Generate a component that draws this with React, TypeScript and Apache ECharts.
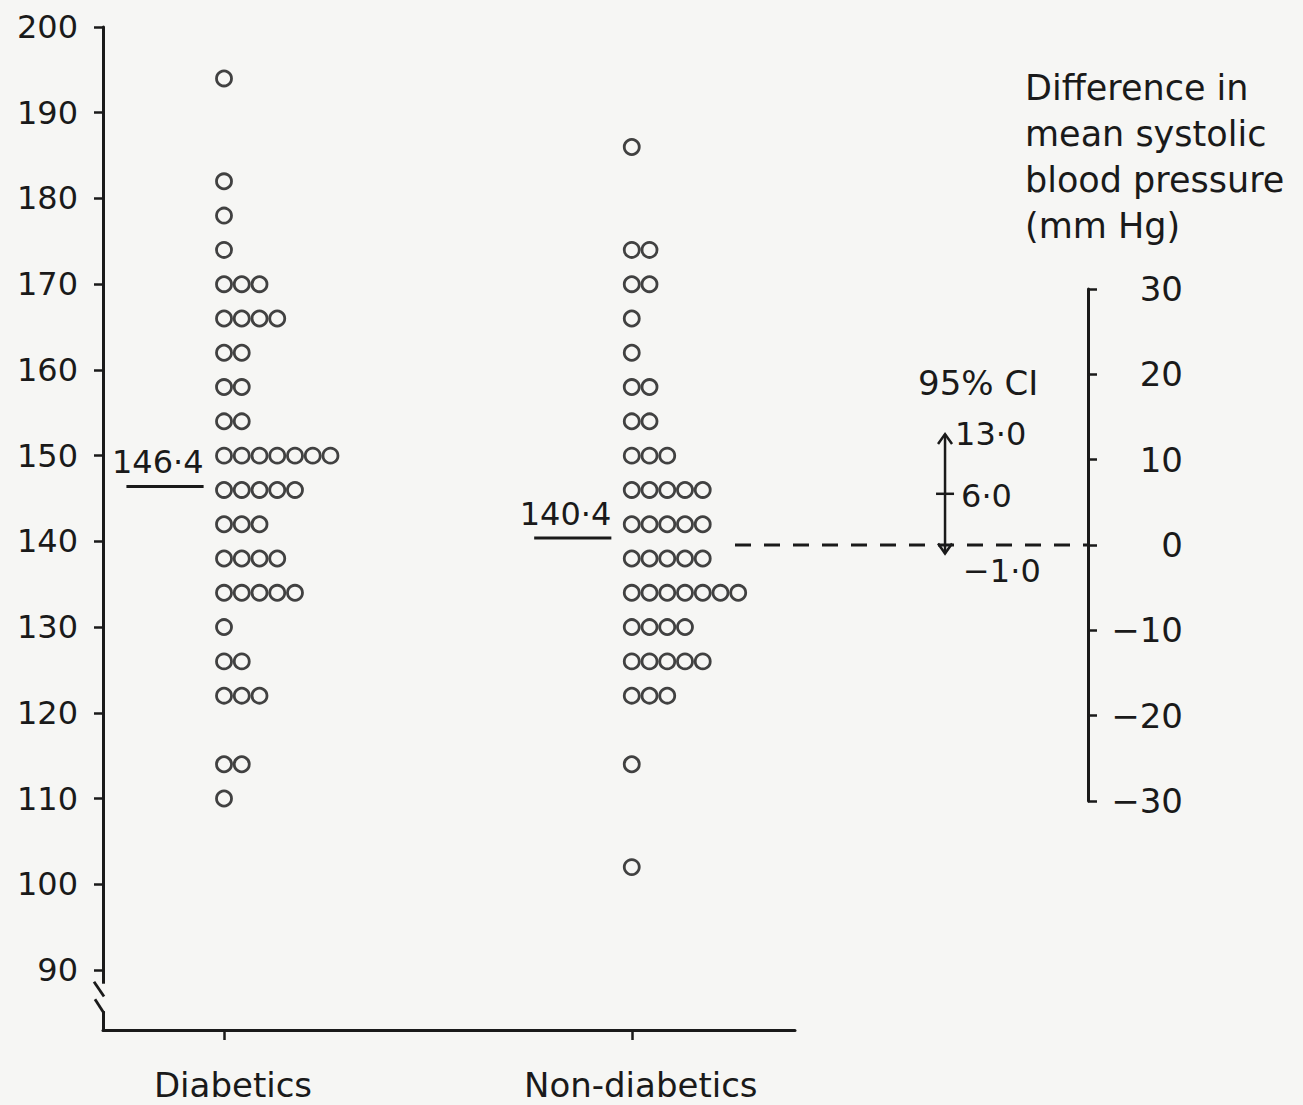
import React, { useEffect, useRef } from "react";
import * as echarts from "echarts";

// ---- data ----
const categories = ["Diabetics", "Non-diabetics"];
const diabeticBins = [194, 182, 178, 174, 170, 166, 162, 158, 154, 150, 146, 142, 138, 134, 130, 126, 122, 114, 110];
const diabeticCounts = [1, 1, 1, 1, 3, 4, 2, 2, 2, 7, 5, 3, 4, 5, 1, 2, 3, 2, 1];
const nonDiabeticBins = [186, 174, 170, 166, 162, 158, 154, 150, 146, 142, 138, 134, 130, 126, 122, 114, 102];
const nonDiabeticCounts = [1, 2, 2, 1, 1, 2, 2, 3, 5, 5, 5, 7, 4, 5, 3, 1, 1];
const groupMeans = [146.4, 140.4];
const bpTicks = [90, 100, 110, 120, 130, 140, 150, 160, 170, 180, 190, 200];
const diffTicks = [-30, -20, -10, 0, 10, 20, 30];
const ciValues = [-1.0, 6.0, 13.0]; // low, mean difference, high
const ciTitle = "95% CI";
const diffAxisTitle = "Difference in\nmean systolic\nblood pressure\n(mm Hg)";

// ---- layout (not data) ----
const GROUP_X = [6.82, 29.8];
const X_MAX = 39;
const Y_MIN = 83;
const Y_MAX = 200;
const CI_X = 0.595;
const FONT = "DejaVu Sans";
const INK = "#1a1a1a";
const BG = "#f6f6f4";

const fmt = (v: number) => v.toFixed(1).replace(".", "·").replace("-", "−");

function buildDots(bins: number[], counts: number[], gx: number) {
  const out: number[][] = [];
  bins.forEach((b, i) => {
    for (let k = 0; k < counts[i]; k++) out.push([gx + k, b]);
  });
  return out;
}

export default function App() {
  const ref = useRef<HTMLDivElement>(null);
  useEffect(() => {
    if (!ref.current) return;
    const chart = echarts.init(ref.current, undefined, { renderer: "svg" });
    const dots = [
      ...buildDots(diabeticBins, diabeticCounts, GROUP_X[0]),
      ...buildDots(nonDiabeticBins, nonDiabeticCounts, GROUP_X[1]),
    ];
    const option: any = {
      animation: false,
      backgroundColor: BG,
      title: {
        text: diffAxisTitle,
        left: 1025,
        top: 65,
        padding: 0,
        textStyle: { fontSize: 35, fontWeight: "normal", fontFamily: FONT, color: INK, lineHeight: 46 },
      },
      grid: [
        { left: 103, top: 27, width: 692, height: 1003 },
        { left: 735, top: 289, width: 353, height: 512 },
      ],
      xAxis: [
        {
          type: "value",
          gridIndex: 0,
          min: 0,
          max: X_MAX,
          splitLine: { show: false },
          axisLine: { show: true, onZero: false, lineStyle: { color: INK, width: 3 } },
          axisTick: { show: true, length: 10, customValues: GROUP_X, lineStyle: { color: INK, width: 2.5 } },
          axisLabel: {
            show: true,
            customValues: GROUP_X,
            margin: 38,
            padding: [0, 0, 0, 18],
            fontSize: 34,
            fontFamily: FONT,
            color: INK,
            formatter: (v: number) => {
              const i = GROUP_X.findIndex((g) => Math.abs(g - v) < 1e-6);
              return i >= 0 ? categories[i] : "";
            },
          },
        },
        { type: "value", gridIndex: 1, min: 0, max: 1, show: false },
      ],
      yAxis: [
        {
          type: "value",
          gridIndex: 0,
          min: Y_MIN,
          max: Y_MAX,
          splitLine: { show: false },
          axisLine: { show: true, onZero: false, lineStyle: { color: INK, width: 3 } },
          axisTick: { show: true, length: 9, customValues: bpTicks, lineStyle: { color: INK, width: 2.5 } },
          axisLabel: {
            show: true,
            customValues: bpTicks,
            margin: 25,
            fontSize: 32,
            fontFamily: FONT,
            color: INK,
          },
        },
        {
          type: "value",
          gridIndex: 1,
          position: "right",
          min: -30,
          max: 30,
          interval: 10,
          splitLine: { show: false },
          axisLine: { show: true, onZero: false, lineStyle: { color: INK, width: 3 } },
          axisTick: { show: true, length: 9, customValues: diffTicks, lineStyle: { color: INK, width: 2.5 } },
          axisLabel: {
            show: true,
            customValues: diffTicks,
            margin: 95,
            align: "right",
            fontSize: 34,
            fontFamily: FONT,
            color: INK,
            formatter: (v: number) => String(v).replace("-", "−"),
          },
        },
      ],
      series: [
        {
          type: "scatter",
          xAxisIndex: 0,
          yAxisIndex: 0,
          data: dots,
          symbol: "circle",
          symbolSize: 15,
          itemStyle: { color: BG, borderColor: "#141414", borderWidth: 2.8 },
          silent: true,
        },
        {
          type: "custom",
          xAxisIndex: 0,
          yAxisIndex: 0,
          data: groupMeans.map((m, i) => [GROUP_X[i], m]),
          encode: { x: 0, y: 1 },
          renderItem: (params: any, api: any) => {
            const gx = api.value(0);
            const m = api.value(1);
            const p = api.coord([gx - 5.5, m]);
            const q = api.coord([gx - 1.15, m]);
            return {
              type: "group",
              children: [
                { type: "line", shape: { x1: p[0], y1: p[1], x2: q[0], y2: q[1] }, style: { stroke: INK, lineWidth: 3 } },
                {
                  type: "text",
                  style: {
                    text: fmt(m),
                    x: q[0],
                    y: q[1] - 8,
                    align: "right",
                    verticalAlign: "bottom",
                    fill: INK,
                    fontSize: 32,
                    fontFamily: FONT,
                  },
                },
              ],
            };
          },
        },
        {
          type: "line",
          xAxisIndex: 1,
          yAxisIndex: 1,
          data: [[0, 0], [1, 0]],
          symbol: "none",
          lineStyle: { color: INK, width: 2.8, type: [16, 13] },
          silent: true,
        },
        {
          type: "custom",
          xAxisIndex: 1,
          yAxisIndex: 1,
          data: [[CI_X, ciValues[0], ciValues[1], ciValues[2]]],
          encode: { x: 0, y: [1, 2, 3] },
          clip: false,
          renderItem: (params: any, api: any) => {
            const x = api.value(0);
            const lo = api.coord([x, api.value(1)]);
            const mid = api.coord([x, api.value(2)]);
            const hi = api.coord([x, api.value(3)]);
            const ts = { fill: INK, fontSize: 32, fontFamily: FONT };
            return {
              type: "group",
              children: [
                { type: "line", shape: { x1: hi[0], y1: hi[1], x2: lo[0], y2: lo[1] }, style: { stroke: INK, lineWidth: 2.5 } },
                { type: "polyline", shape: { points: [[hi[0] - 7, hi[1] + 10], [hi[0], hi[1]], [hi[0] + 7, hi[1] + 10]] }, style: { stroke: INK, lineWidth: 2.5, fill: "none" } },
                { type: "polyline", shape: { points: [[lo[0] - 7, lo[1] - 10], [lo[0], lo[1]], [lo[0] + 7, lo[1] - 10]] }, style: { stroke: INK, lineWidth: 2.5, fill: "none" } },
                { type: "line", shape: { x1: mid[0] - 9, y1: mid[1], x2: mid[0] + 9, y2: mid[1] }, style: { stroke: INK, lineWidth: 2.5 } },
                { type: "text", style: { ...ts, text: fmt(api.value(3)), x: hi[0] + 10, y: hi[1], align: "left", verticalAlign: "middle" } },
                { type: "text", style: { ...ts, text: fmt(api.value(2)), x: mid[0] + 16, y: mid[1] + 2, align: "left", verticalAlign: "middle" } },
                { type: "text", style: { ...ts, text: fmt(api.value(1)), x: lo[0] + 18, y: lo[1] + 17, align: "left", verticalAlign: "middle" } },
                { type: "text", style: { ...ts, fontSize: 34, text: ciTitle, x: hi[0] - 27, y: hi[1] - 51, align: "left", verticalAlign: "middle" } },
              ],
            };
          },
        },
      ],
    };
    chart.setOption(option);

    // axis break marks on the blood-pressure axis
    const pt = (v: number) => chart.convertToPixel({ gridIndex: 0 }, [0, v]) as number[];
    const a = pt(88.4);
    const b = pt(86.9);
    const c = pt(86.6);
    const d = pt(85.2);
    const ax = a[0];
    chart.setOption({
      graphic: [
        { type: "rect", shape: { x: ax - 4, y: a[1], width: 8, height: d[1] - a[1] }, style: { fill: BG }, z: 100 },
        { type: "line", shape: { x1: ax - 9, y1: a[1] - 2, x2: ax + 1, y2: b[1] }, style: { stroke: INK, lineWidth: 2.8 }, z: 101 },
        { type: "line", shape: { x1: ax - 8, y1: c[1], x2: ax + 1, y2: d[1] + 2 }, style: { stroke: INK, lineWidth: 2.8 }, z: 101 },
      ],
    });

    return () => chart.dispose();
  }, []);
  return (
    <div
      ref={ref}
      style={{ position: "absolute", left: 0, top: 0, width: 1303, height: 1105 }}
    />
  );
}
